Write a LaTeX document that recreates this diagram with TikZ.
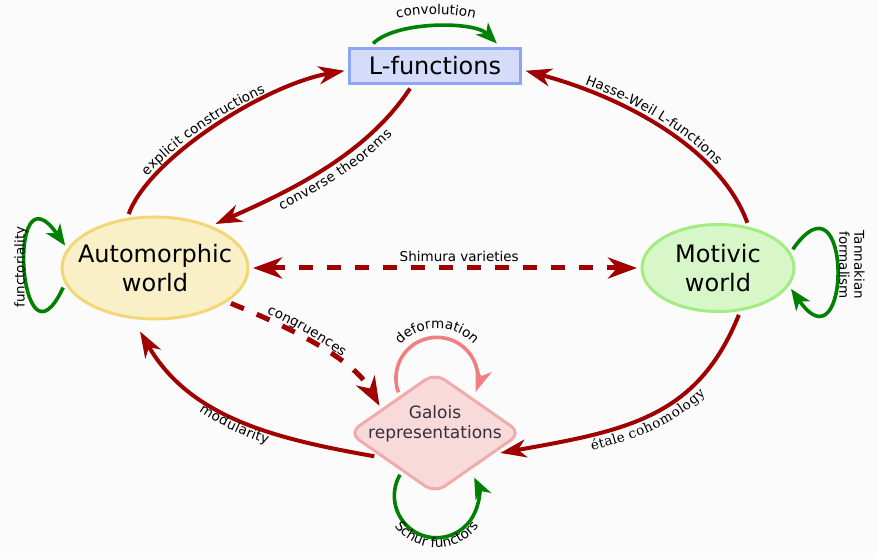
\documentclass[tikz,border=0pt]{standalone}
\usepackage{fontspec}
\setmainfont{DejaVu Sans}
\newfontfamily\dvserif{DejaVu Serif}
\usetikzlibrary{arrows.meta,decorations.text,shapes.geometric}
\newcommand{\lblfont}{\fontsize{13.5}{15}\selectfont}
\definecolor{dred}{RGB}{160,0,0}
\definecolor{dgreen}{RGB}{0,128,0}
\definecolor{pinkarrow}{RGB}{240,128,128}
\definecolor{lfill}{RGB}{213,220,250}
\definecolor{ldraw}{RGB}{138,166,245}
\definecolor{afill}{RGB}{250,240,200}
\definecolor{adraw}{RGB}{244,214,118}
\definecolor{mfill}{RGB}{216,247,200}
\definecolor{mdraw}{RGB}{162,236,130}
\definecolor{gfill}{RGB}{248,218,218}
\definecolor{gdraw}{RGB}{240,172,172}
\definecolor{gtext}{RGB}{55,45,60}
\definecolor{bgcol}{RGB}{251,251,251}
\begin{document}
\begin{tikzpicture}[x=1pt,y=1pt,
  lfbox/.style={rectangle, draw=ldraw, fill=lfill, line width=2.8pt,
    minimum width=171pt, minimum height=35pt, inner sep=0pt, outer sep=5pt,
    font=\fontsize{24}{28}\selectfont},
  autobox/.style={ellipse, draw=adraw, fill=afill, line width=3pt,
    minimum width=186pt, minimum height=102pt, inner xsep=-12pt, inner ysep=0pt,
    outer sep=5pt, align=center, font=\fontsize{24}{28.5}\selectfont},
  motbox/.style={ellipse, draw=mdraw, fill=mfill, line width=3pt,
    minimum width=152pt, minimum height=87pt, inner xsep=-12pt, inner ysep=0pt,
    outer sep=5pt, align=center, font=\fontsize{24}{28.5}\selectfont},
  galbox/.style={diamond, draw=gdraw, fill=gfill, line width=3pt,
    minimum width=176pt, minimum height=124pt, inner sep=0pt, outer sep=5pt,
    rounded corners=12pt},
  galtxt/.style={align=center, text=gtext, font=\fontsize{17}{20}\selectfont},
  redarr/.style={draw=dred, line width=4pt, -{Stealth[length=26pt,width=18pt,inset=8pt]}},
  reddash/.style={draw=dred, line width=5pt, dash pattern=on 14pt off 14pt},
  greenarr/.style={draw=dgreen, line width=3.6pt, -{Stealth[length=21pt,width=17pt,inset=6pt]}},
  pinkarr/.style={draw=pinkarrow, line width=3.6pt, -{Stealth[length=24pt,width=17pt,inset=7pt]}},
  lbl/.style n args={4}{decorate, decoration={text along path, text={#1}, raise=#2,
    text align={center, left indent=#3, right indent=#4}}},
  plainlbl/.style={font=\lblfont, inner sep=0pt}
]
\fill[bgcol] (0,0) rectangle (877,559);
\useasboundingbox (0,0) rectangle (877,559);

% nodes
\node[lfbox] (lf) at (435,493) {L-functions};
\node[autobox] (auto) at (155,291) {Automorphic\\world};
\node[motbox] (mot) at (718,291) {Motivic\\world};
\node[galbox] (gal) at (435,126) {};
\node[galtxt] (galtext) at (435,135.5) {Galois\\representations};

% main arrows
\draw[redarr] (auto.116) to[out=70,in=190,out distance=60,in distance=80] (lf.183);
\draw[redarr] (lf.222) to[out=236.6,in=24,out distance=80,in distance=80] (auto.36);
\draw[redarr] (mot.57) to[out=110,in=345,out distance=80,in distance=100] (lf.-3);
\draw[redarr] (mot.-66) to[out=248,in=10,out distance=110,in distance=130] (gal.-17);
\draw[redarr, shorten >=10pt] (gal.201) to[out=170,in=-60,out distance=100,in distance=110] (auto.-110);
\draw[reddash, -{Stealth[length=29pt,width=21pt,inset=9pt]}] (auto.-25) to[out=-22,in=119,out distance=60,in distance=55] (gal.154);
\draw[reddash, {Stealth[length=29pt,width=21pt,inset=9pt]}-{Stealth[length=29pt,width=21pt,inset=9pt]}] (auto.east) -- (mot.west)
  node[pos=0.537, above, font=\lblfont] (lshim) {Shimura varieties};

% loops
\draw[greenarr] (lf.160) to[out=45,in=135,distance=32] (lf.20);
\draw[pinkarr] (gal.132) arc[start angle=200,end angle=-19.5,radius=41];
\draw[greenarr] (gal.230) arc[start angle=150,end angle=385.7,radius=42];
\draw[greenarr] (auto.192) to[out=245,in=125,distance=105] (auto.166);
\draw[greenarr] (mot.14) to[out=55,in=-55,distance=105] (mot.-16);

% curved labels
\path[lbl={|\lblfont|explicit constructions}{5pt}{0pt}{40pt}]
  (auto.116) to[out=70,in=190,out distance=60,in distance=80] (lf.183);
\path[lbl={|\lblfont|converse theorems}{-15.5pt}{20pt}{0pt}]
  (auto.36) to[out=24,in=236.6,out distance=80,in distance=80] (lf.222);
\path[lbl={|\lblfont|Hasse-Weil L-functions}{5.5pt}{0pt}{4pt}]
  (lf.-3) to[out=345,in=110,out distance=100,in distance=80] (mot.57);
\path[lbl={|\dvserif\lblfont|étale cohomology}{-15pt}{8pt}{0pt}]
  (gal.-17) to[out=10,in=248,out distance=130,in distance=110] (mot.-66);
\path[lbl={|\lblfont|modularity}{-13pt}{0pt}{0pt}]
  (auto.-110) to[out=-60,in=170,out distance=110,in distance=100] (gal.201);
\path[lbl={|\lblfont|congruences}{5pt}{0pt}{24pt}]
  (auto.-25) to[out=-22,in=119,out distance=60,in distance=55] (gal.154);
\path[lbl={|\lblfont|convolution}{0pt}{0pt}{0pt}]
  (385,535) to[out=35,in=145,distance=23] (487,535);
\path[lbl={|\lblfont|deformation}{0pt}{0pt}{0pt}]
  (387.1,180.4) arc[start angle=180,end angle=0,radius=50];
\path[lbl={|\lblfont|Schur functors}{0pt}{0pt}{0pt}]
  (384.6,63.5) arc[start angle=180,end angle=360,radius=52];

\node[plainlbl, rotate=90] (lfunct) at (21,292) {functoriality};
\node[plainlbl, rotate=-90, align=center] (ltann) at (852,294) {Tannakian\\formalism};
\end{tikzpicture}
\end{document}
